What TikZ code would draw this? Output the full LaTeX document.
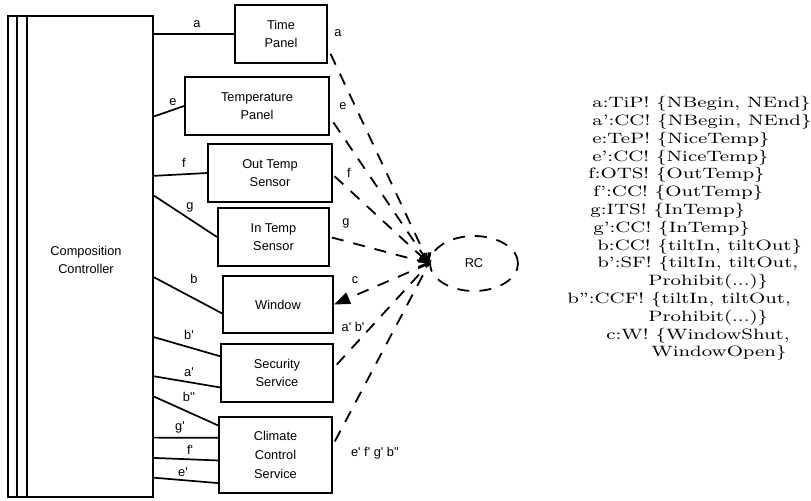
\documentclass[tikz,border=0pt]{standalone}
\usepackage{fontspec}
\usepackage{tikz}
\usetikzlibrary{shapes.geometric, arrows.meta, calc}
\newfontfamily\diagfont{Liberation Sans}
\newcommand{\widetext}[1]{\scalebox{1.31}[1]{#1}}

\tikzset{
    unitbox/.style={draw, line width=1pt, align=center, inner sep=0pt, font=\diagfont\fontsize{6.4}{9.3}\selectfont},
    chanline/.style={line width=0.85pt},
    sigline/.style={line width=0.9pt, dash pattern=on 6pt off 5pt},
    chanlabel/.style={inner sep=0pt, font=\diagfont\fontsize{6.4}{8}\selectfont},
    specline/.style={anchor=west, inner sep=0pt, text height=5.6pt, text depth=1.9pt, font=\fontsize{7.5}{9}\selectfont},
}

\begin{document}
\begin{tikzpicture}[x=0.5pt, y=-0.5pt]
    \useasboundingbox (0,0) rectangle (811,500);

    % Composition controller with the doubled left border
    \node[unitbox, minimum width=72.5pt, minimum height=240.5pt] (cc) at (80.5,256.5) {};
    \draw[line width=1pt] ([xshift=5pt]cc.north west) -- ([xshift=5pt]cc.south west);
    \draw[line width=1pt] ([xshift=10pt]cc.north west) -- ([xshift=10pt]cc.south west);
    \node[align=center, inner sep=0pt, font=\diagfont\fontsize{6.4}{9.3}\selectfont] (cctext) at (86,260) {Composition\\Controller};

    % Components
    \node[unitbox, minimum width=46pt, minimum height=29pt] (tip) at (281,34) {Time\\Panel};
    \node[unitbox, minimum width=72pt, minimum height=29pt] (tep) at (257,106) {Temperature\\Panel};
    \node[unitbox, minimum width=62pt, minimum height=29pt] (ots) at (270,173) {Out Temp\\Sensor};
    \node[unitbox, minimum width=55.5pt, minimum height=29pt] (its) at (273.5,237) {In Temp\\Sensor};
    \node[unitbox, minimum width=55pt, minimum height=28.5pt] (win) at (278,304.5) {Window};
    \node[unitbox, minimum width=56pt, minimum height=29pt] (sec) at (277,373) {Security\\Service};
    \node[unitbox, minimum width=56.5pt, minimum height=38pt] (ccs) at (275.5,455) {Climate\\Control\\Service};

    % RC
    \node[draw, ellipse, sigline, minimum width=44pt, minimum height=27.5pt, inner sep=0pt, font=\diagfont\fontsize{6.4}{8}\selectfont] (rc) at (474,263.5) {RC};

    % Channels from the controller
    \draw[chanline] (cc.east |- tip.west) -- (tip.west);
    \draw[chanline] ($(cc.north east)!0.21!(cc.south east)$) -- (tep.west);
    \draw[chanline] ($(cc.north east)!0.333!(cc.south east)$) -- (ots.west);
    \draw[chanline] ($(cc.north east)!0.374!(cc.south east)$) -- (its.west);
    \draw[chanline] ($(cc.north east)!0.543!(cc.south east)$) -- ($(win.north west)!0.65!(win.south west)$);
    \draw[chanline] ($(cc.north east)!0.667!(cc.south east)$) -- ($(sec.north west)!0.22!(sec.south west)$);
    \draw[chanline] ($(cc.north east)!0.748!(cc.south east)$) -- ($(sec.north west)!0.74!(sec.south west)$);
    \draw[chanline] ($(cc.north east)!0.79!(cc.south east)$) -- ($(ccs.north west)!0.12!(ccs.south west)$);
    \draw[chanline] ($(cc.north east)!0.875!(cc.south east)$) -- ($(ccs.north west)!0.28!(ccs.south west)$);
    \draw[chanline] ($(cc.north east)!0.917!(cc.south east)$) -- ($(ccs.north west)!0.57!(ccs.south west)$);
    \draw[chanline] ($(cc.north east)!0.958!(cc.south east)$) -- ($(ccs.north west)!0.86!(ccs.south west)$);

    % Channel names
    \foreach \n/\x/\y/\t in {la/197/24/a, le/173/102/e, lf/184/163/f, lg/190/207/g,
        lb/194/279/b, lbp/189/335/b', lap/189/372/a', lbpp/189/397/b'',
        lgp/180/427/g', lfp/190/450/f', lep/183/472/e'}
        \node[chanlabel] (\n) at (\x,\y) {\t};

    % Signals to and from RC
    \draw[sigline, shorten <=3pt, -{Straight Barb[length=4pt, width=6pt]}] ($(tip.north east)!0.74!(tip.south east)$) -- (rc.west);
    \draw[sigline, shorten <=3pt, -{Straight Barb[length=4pt, width=6pt]}] ($(tep.north east)!0.69!(tep.south east)$) -- (rc.west);
    \draw[sigline, shorten <=1pt, -{Straight Barb[length=4pt, width=6pt]}] ($(ots.north east)!0.53!(ots.south east)$) -- (rc.west);
    \draw[sigline, shorten <=1pt, -{Straight Barb[length=4pt, width=6pt]}] (its.east) -- (rc.west);
    \draw[sigline, -{Triangle[length=8pt, width=6pt]}] (rc.west) -- (win.east);
    \draw[sigline, shorten <=2pt] ($(sec.north east)!0.41!(sec.south east)$) -- (rc.west);
    \draw[sigline, shorten <=2pt] ($(ccs.north east)!0.37!(ccs.south east)$) -- (rc.west);

    \foreach \n/\x/\y/\t in {sa/338/33/a, se/343/106/e, sf/349/173/f, sg/346/223/g,
        sc/355/280/c, ssec/353/327/{a' b'}, sccs/375/453/{e' f' g' b''}}
        \node[chanlabel] (\n) at (\x,\y) {\t};

    % Signal list
    \foreach \x/\t [count=\i from 0] in {
        592/{a:TiP! \{NBegin, NEnd\}},
        592/{a':CC! \{NBegin, NEnd\}},
        592/{e:TeP! \{NiceTemp\}},
        592/{e':CC! \{NiceTemp\}},
        588/{f:OTS! \{OutTemp\}},
        593/{f':CC! \{OutTemp\}},
        590/{g:ITS! \{InTemp\}},
        593/{g':CC! \{InTemp\}},
        597/{b:CC! \{tiltIn, tiltOut\}},
        597/{b':SF! \{tiltIn, tiltOut,},
        648/{Prohibit(...)\}},
        567/{b'':CCF! \{tiltIn, tiltOut,},
        648/{Prohibit(...)\}},
        606/{c:W! \{WindowShut,},
        651/{WindowOpen\}}}
        \node[specline] (spec\i) at (\x,104+17.8*\i) {\widetext{\t}};
\end{tikzpicture}
\end{document}
